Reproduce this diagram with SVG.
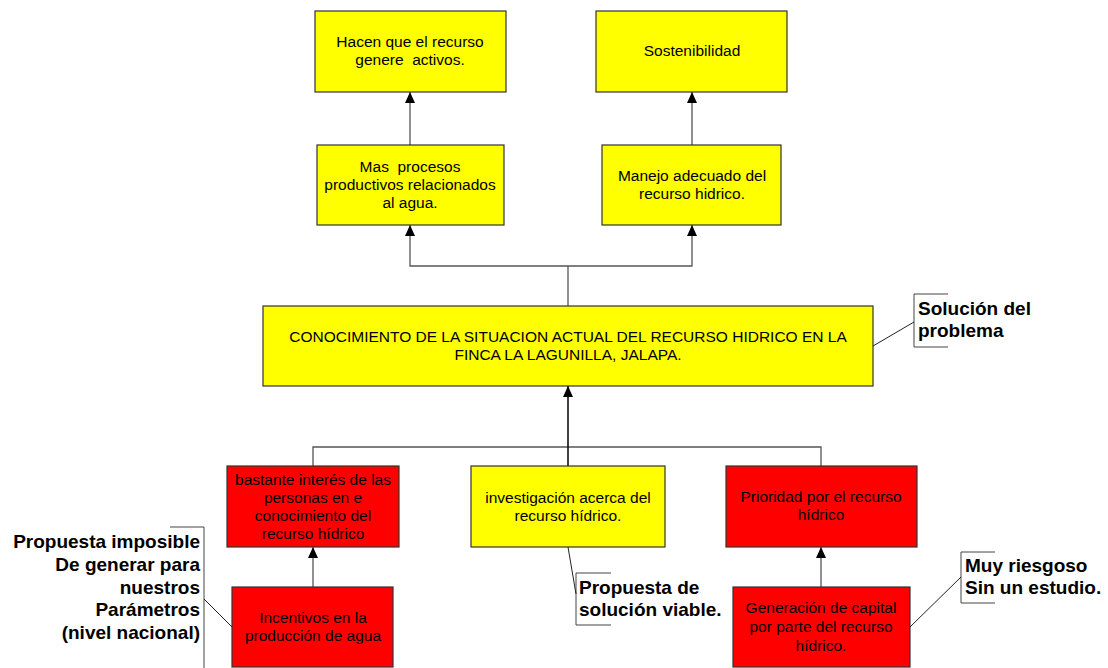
<svg xmlns="http://www.w3.org/2000/svg" width="1108" height="668" viewBox="0 0 1108 668">
<defs>
<marker id="ah" markerUnits="userSpaceOnUse" markerWidth="11" markerHeight="10" refX="11" refY="5" orient="auto" viewBox="0 0 11 10">
<path d="M0,0 L11,5 L0,10 Z" fill="#000"/>
</marker>
<style>
.y{fill:#ffff00;stroke:#333;stroke-width:1.2}
.r{fill:#ff0000;stroke:#333;stroke-width:1.2}
.t{font-family:"Liberation Sans",Arial,sans-serif;font-size:15.5px;fill:#000;text-anchor:middle}
.c{fill:none;stroke:#555;stroke-width:1.3}
.a{fill:none;stroke:#555;stroke-width:1.3}
.b{font-family:"Liberation Sans",Arial,sans-serif;font-size:19px;font-weight:bold;fill:#000}
.br{fill:none;stroke:#444;stroke-width:1}
.ld{fill:none;stroke:#222;stroke-width:1}
</style>
</defs>
<rect width="1108" height="668" fill="#fff"/>

<g id="connectors">
<line class="a" x1="410" y1="145" x2="410" y2="92" marker-end="url(#ah)"/>
<line class="a" x1="692" y1="145" x2="692" y2="92" marker-end="url(#ah)"/>
<polyline class="c" points="568,306 568,266"/>
<polyline class="a" points="568,266 410,266 410,225" marker-end="url(#ah)"/>
<polyline class="a" points="568,266 692,266 692,225" marker-end="url(#ah)"/>
<polyline class="c" points="313,466 313,447 821,447 821,466"/>
<line x1="568" y1="466" x2="568" y2="386" stroke="#111" stroke-width="1.6" marker-end="url(#ah)"/>
<line class="a" x1="313" y1="587" x2="313" y2="547" marker-end="url(#ah)"/>
<line class="a" x1="821" y1="587" x2="821" y2="547" marker-end="url(#ah)"/>
</g>

<g id="n-activos">
<rect class="y" x="315" y="11" width="191" height="81"/>
<text class="t" x="410" y="47">Hacen que el recurso</text>
<text class="t" x="410" y="65" xml:space="preserve">genere  activos.</text>
</g>
<g id="n-sostenibilidad">
<rect class="y" x="596" y="11" width="191" height="81"/>
<text class="t" x="692" y="56">Sostenibilidad</text>
</g>
<g id="n-procesos">
<rect class="y" x="317" y="145" width="187" height="80"/>
<text class="t" x="410" y="172" xml:space="preserve">Mas  procesos</text>
<text class="t" x="410" y="190">productivos relacionados</text>
<text class="t" x="410" y="208">al agua.</text>
</g>
<g id="n-manejo">
<rect class="y" x="602" y="145" width="179" height="80"/>
<text class="t" x="692" y="181">Manejo adecuado del</text>
<text class="t" x="692" y="199">recurso hidrico.</text>
</g>
<g id="n-main">
<rect class="y" x="263" y="306" width="610" height="80"/>
<text class="t" x="568" y="342">CONOCIMIENTO DE LA SITUACION ACTUAL DEL RECURSO HIDRICO EN LA</text>
<text class="t" x="568" y="360">FINCA LA LAGUNILLA, JALAPA.</text>
</g>
<g id="n-interes">
<rect class="r" x="227" y="466" width="172" height="81"/>
<text class="t" x="313" y="485">bastante interés de las</text>
<text class="t" x="313" y="503">personas en e</text>
<text class="t" x="313" y="521">conocimiento del</text>
<text class="t" x="313" y="539">recurso hídrico</text>
</g>
<g id="n-investigacion">
<rect class="y" x="471" y="466" width="194" height="81"/>
<text class="t" x="568" y="503">investigación acerca del</text>
<text class="t" x="568" y="521">recurso hídrico.</text>
</g>
<g id="n-prioridad">
<rect class="r" x="726" y="466" width="191" height="81"/>
<text class="t" x="821" y="502">Prioridad por el recurso</text>
<text class="t" x="821" y="520">hídrico</text>
</g>
<g id="n-incentivos">
<rect class="r" x="232" y="587" width="161" height="80"/>
<text class="t" x="313" y="623">Incentivos en la</text>
<text class="t" x="313" y="641">producción de agua</text>
</g>
<g id="n-capital">
<rect class="r" x="733" y="587" width="177" height="80"/>
<text class="t" x="821" y="613">Generación de capital</text>
<text class="t" x="821" y="632">por parte del recurso</text>
<text class="t" x="821" y="651">hídrico.</text>
</g>

<g id="callout-solucion">
<polyline class="br" points="948,294 914,294 914,347 948,347"/>
<line class="ld" x1="873" y1="346" x2="914" y2="322"/>
<text class="b" x="918" y="315">Solución del</text>
<text class="b" x="918" y="337">problema</text>
</g>
<g id="callout-imposible">
<polyline class="br" points="170,527 204,527 204,668"/>
<line class="ld" x1="204" y1="599" x2="232" y2="627"/>
<text class="b" x="200" y="548" text-anchor="end">Propuesta imposible</text>
<text class="b" x="200" y="571" text-anchor="end">De generar para</text>
<text class="b" x="200" y="594" text-anchor="end">nuestros</text>
<text class="b" x="200" y="616" text-anchor="end">Parámetros</text>
<text class="b" x="200" y="639" text-anchor="end">(nivel nacional)</text>
</g>
<g id="callout-viable">
<polyline class="br" points="611,573 576,573 576,625 611,625"/>
<line class="ld" x1="568" y1="547" x2="576" y2="594"/>
<text class="b" x="579" y="594">Propuesta de</text>
<text class="b" x="579" y="616">solución viable.</text>
</g>
<g id="callout-riesgoso">
<polyline class="br" points="995,552 961,552 961,603 995,603"/>
<line class="ld" x1="910" y1="627" x2="961" y2="577"/>
<text class="b" x="965" y="572">Muy riesgoso</text>
<text class="b" x="965" y="594">Sin un estudio.</text>
</g>
</svg>
